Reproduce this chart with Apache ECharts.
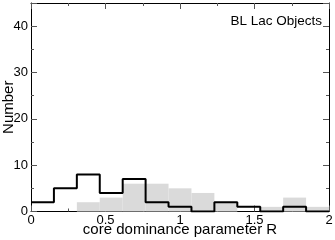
<!DOCTYPE html>
<html><head><meta charset="utf-8">
<script src="https://cdn.jsdelivr.net/npm/echarts@6/dist/echarts.min.js"></script>
<style>html,body{margin:0;padding:0;background:#fff}#c{width:335px;height:240px}</style>
</head><body><div id="c"></div>
<script>
const binEdges = [0, 0.1538, 0.3077, 0.4615, 0.6154, 0.7692, 0.9231, 1.0769, 1.2308, 1.3846, 1.5385, 1.6923, 1.8462, 2.0];
const blackCounts = [2, 5, 8, 4, 7, 2, 1, 0, 2, 1, 0, 1, 0];
const grayCounts  = [0, 0, 2, 3, 6, 6, 5, 4, 2, 0, 1, 3, 1];
const xTicks = [0, 0.5, 1, 1.5, 2];
const yTicks = [0, 10, 20, 30, 40];
const label = 'BL Lac Objects';

const stepData = blackCounts.map((v, i) => [binEdges[i], v]);
stepData.push([binEdges[binEdges.length - 1], blackCounts[blackCounts.length - 1]]);
const grayData = grayCounts.map((v, i) => [binEdges[i], binEdges[i + 1], v]);

const font = 'Liberation Sans, Arial, sans-serif';
function axisCommon() {
  return {
    axisLine: {show: true, onZero: false, lineStyle: {color: '#000', width: 1}},
    axisTick: {show: true, inside: true, length: 6, lineStyle: {color: '#555'}},
    minorTick: {show: true, splitNumber: 2, length: 3, lineStyle: {color: '#555'}},
    splitLine: {show: false},
    nameMoveOverlap: false
  };
}
const chart = echarts.init(document.getElementById('c'), null, {renderer: 'canvas'});
chart.setOption({
  animation: false,
  grid: {left: 31, right: 6, top: 3, bottom: 28.5, containLabel: false, outerBoundsMode: 'none'},
  xAxis: [
    Object.assign(axisCommon(), {type: 'value', min: 0, max: 2, interval: 0.5, position: 'bottom',
      name: 'core dominance parameter R', nameLocation: 'middle', nameGap: 11,
      nameTextStyle: {fontFamily: font, fontSize: 15, color: '#000', verticalAlign: 'top'},
      axisLabel: {fontFamily: font, fontSize: 13, color: '#000', margin: 2,
        formatter: v => xTicks.includes(v) ? String(v) : ''}}),
    Object.assign(axisCommon(), {type: 'value', min: 0, max: 2, interval: 0.5, position: 'top',
      axisLabel: {show: false}})
  ],
  yAxis: [
    Object.assign(axisCommon(), {type: 'value', min: 0, max: 45, interval: 10, position: 'left',
      name: 'Number', nameLocation: 'middle', nameGap: 15,
      nameTextStyle: {fontFamily: font, fontSize: 15, color: '#000'},
      axisLabel: {fontFamily: font, fontSize: 13, color: '#000', margin: 3,
        formatter: v => yTicks.includes(v) ? String(v) : ''}}),
    Object.assign(axisCommon(), {type: 'value', min: 0, max: 45, interval: 10, position: 'right',
      axisLabel: {show: false}})
  ],
  series: [
    {
      type: 'custom', xAxisIndex: 0, yAxisIndex: 0, z: 1,
      data: grayData,
      renderItem: function (params, api) {
        const p0 = api.coord([api.value(0), api.value(2)]);
        const p1 = api.coord([api.value(1), 0]);
        return {type: 'rect', shape: {x: p0[0], y: p0[1], width: p1[0] - p0[0], height: p1[1] - p0[1]},
          style: {fill: '#dadada'}};
      }
    },
    {
      type: 'line', xAxisIndex: 0, yAxisIndex: 0, step: 'end', z: 3,
      data: stepData, symbol: 'none', lineStyle: {color: '#000', width: 2}
    }
  ],
  graphic: [{
    type: 'text', right: 13, top: 14,
    style: {text: label, fontFamily: font, fontSize: 13.5, fill: '#000'}
  }]
});
</script></body></html>
